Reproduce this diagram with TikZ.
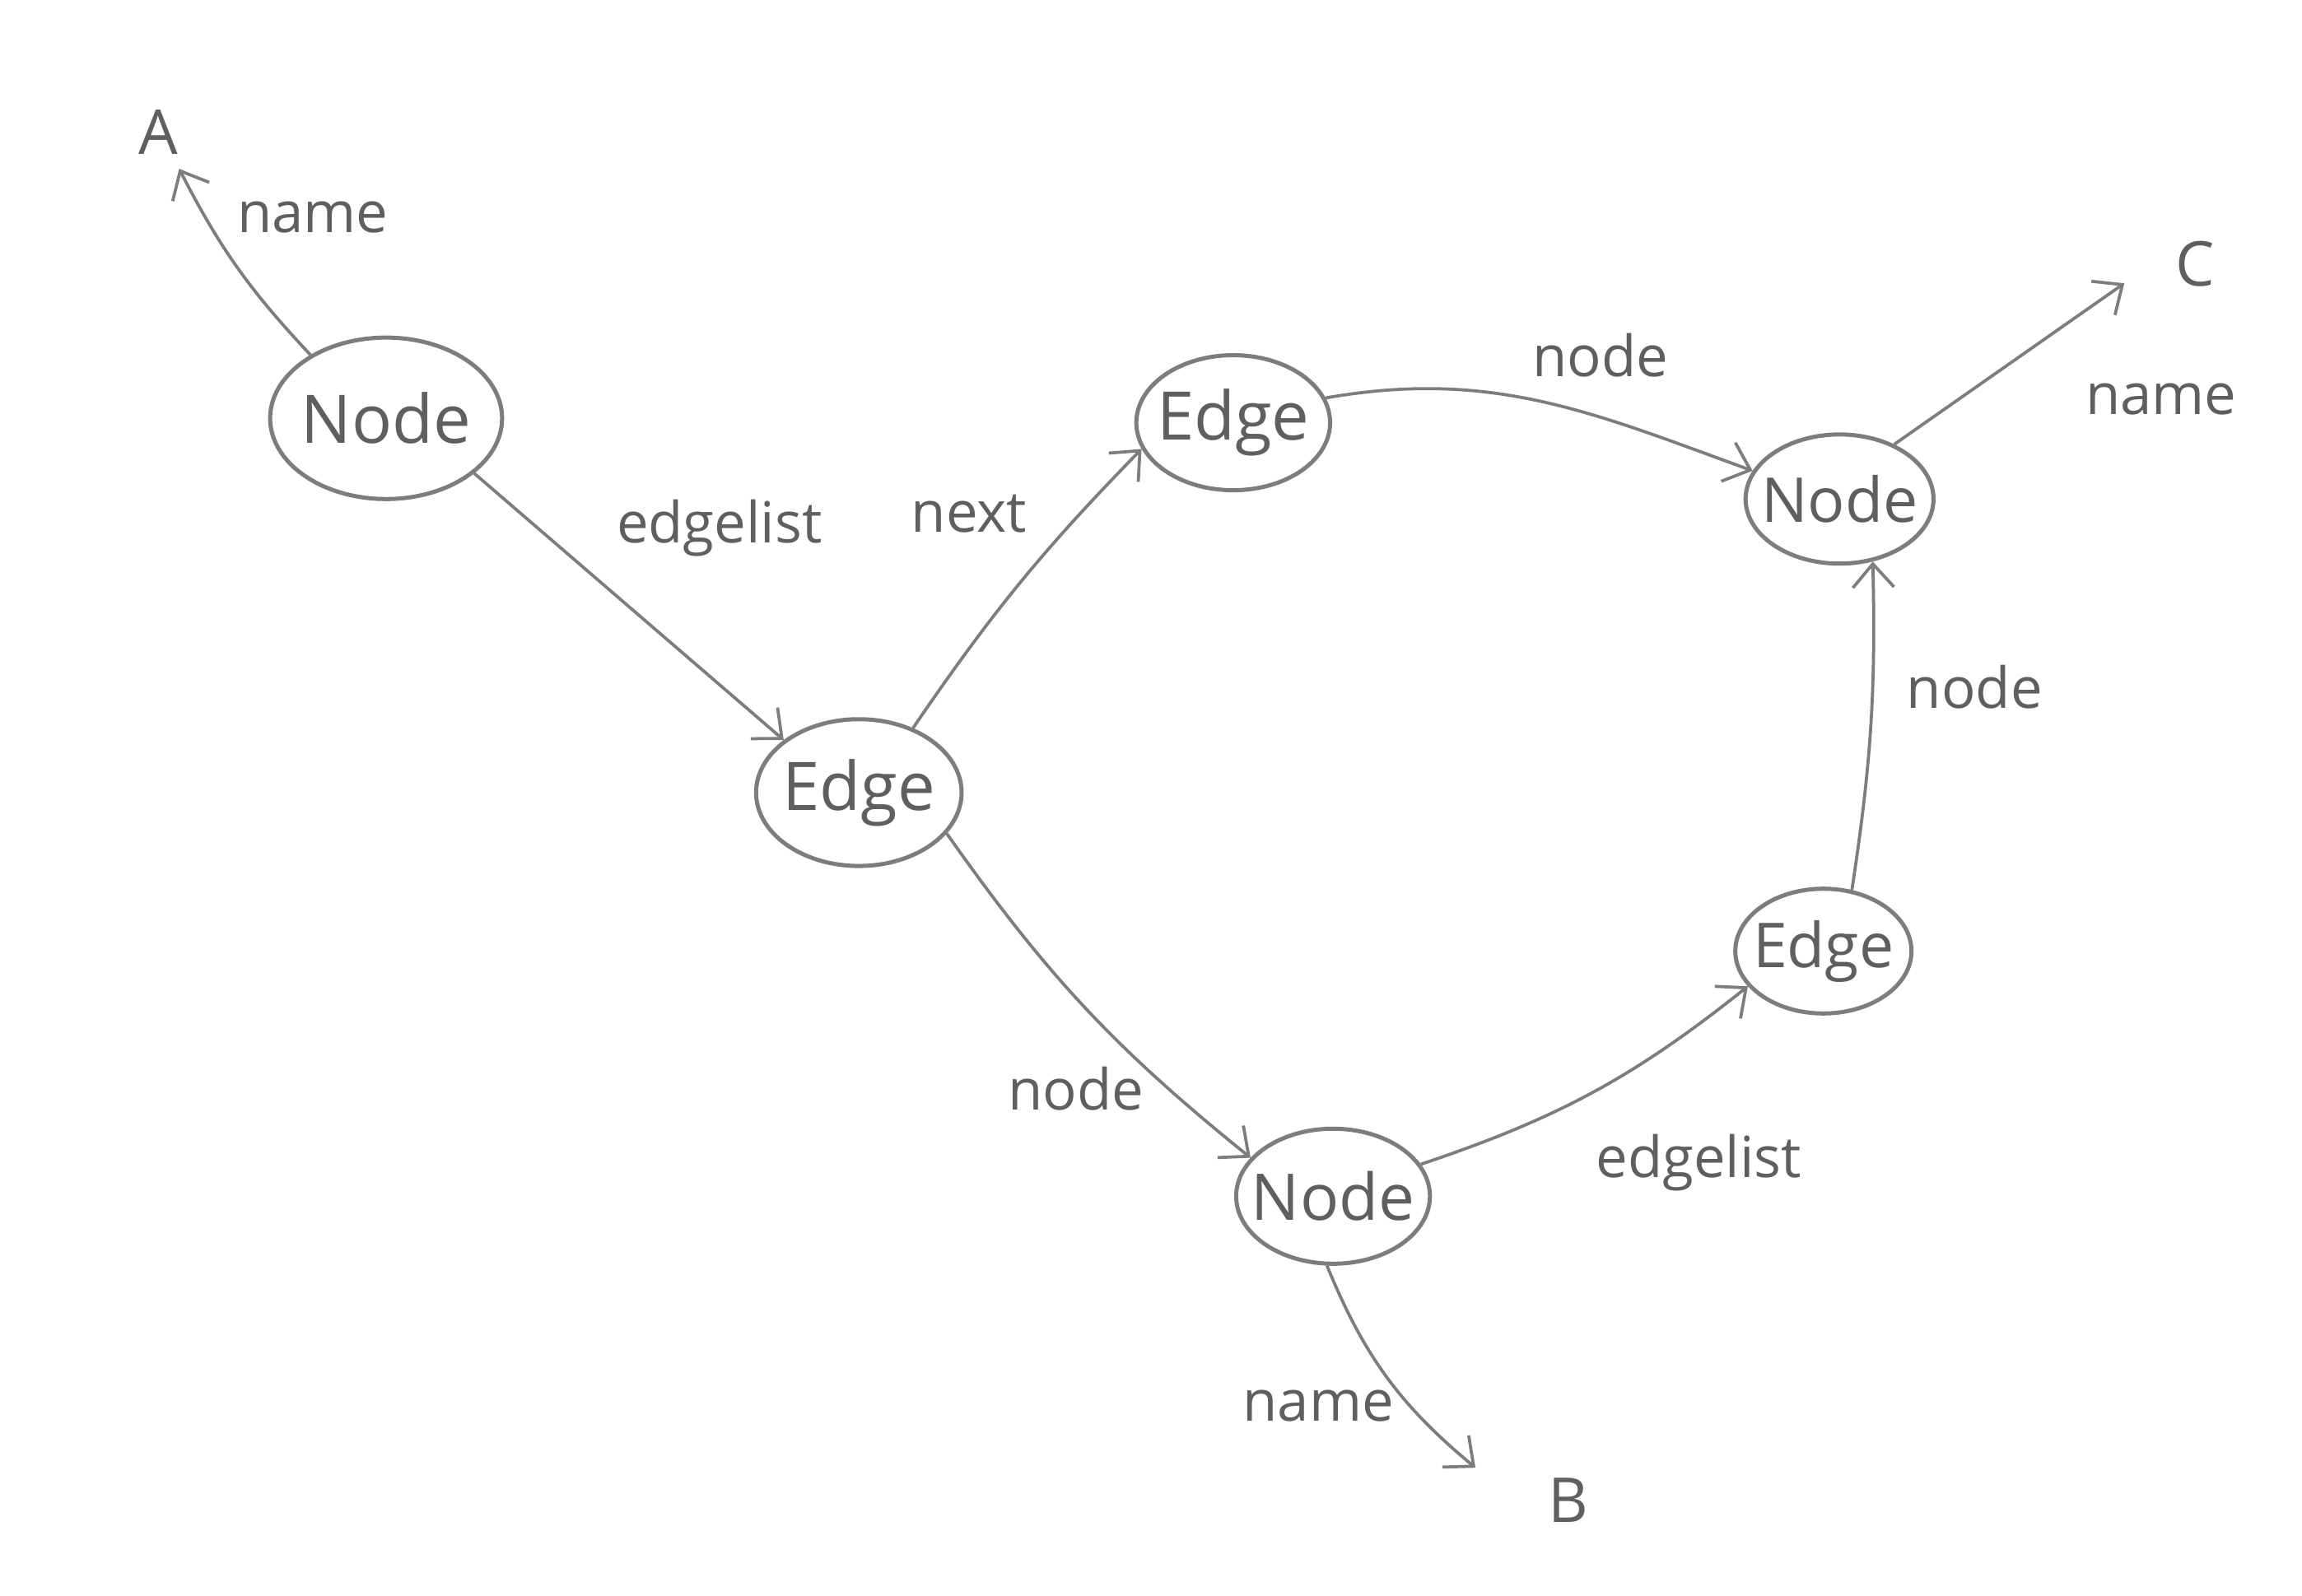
\documentclass[tikz,border=0pt]{standalone}
\usepackage{fontspec}
\setmainfont{Open Sans}
\usetikzlibrary{shapes.geometric,arrows.meta}
\definecolor{pencil}{RGB}{125,125,125}
\definecolor{pencilText}{RGB}{95,95,95}
\begin{document}
\begin{tikzpicture}[x=0.1mm,y=-0.1mm,
  obj/.style={ellipse,draw=pencil,line width=0.8pt,inner xsep=-1mm,inner ysep=0pt,text=pencilText,
    font=\fontsize{13}{15}\selectfont},
  nodeobj/.style={obj,minimum width=15.8mm,minimum height=11mm},
  edgeobj/.style={obj,minimum width=14mm,minimum height=10mm},
  link/.style={draw=pencil,line width=0.6pt,-{Straight Barb[length=1.6mm,width=2.8mm]}},
  lbl/.style={text=pencilText,font=\fontsize{11}{13}\selectfont,inner sep=1pt},
  endlbl/.style={text=pencilText,font=\fontsize{12}{14}\selectfont,inner sep=1pt}]
\useasboundingbox[fill=white] (0,0) rectangle (1568,1087);

% objects
\node[nodeobj] (n1) at (263,285) {Node};
\node[edgeobj] (e1) at (585,540) {Edge};
\node[edgeobj,minimum width=13.2mm,minimum height=9.2mm] (e2) at (840,288) {Edge};
\node[nodeobj,minimum width=12.8mm,minimum height=8.8mm,font=\fontsize{12}{14}\selectfont] (n2) at (1253,340) {Node};
\node[edgeobj,minimum width=12mm,minimum height=8.5mm,font=\fontsize{12}{14}\selectfont] (e3) at (1242,648) {Edge};
\node[nodeobj,minimum width=13.2mm,minimum height=9.2mm,font=\fontsize{12.5}{14}\selectfont] (n3) at (908,815) {Node};

% free ends
\coordinate (tipA) at (122,115);
\coordinate (tipB) at (1005,1000);
\coordinate (tipC) at (1447,193);

% connectors
\draw[link] (n1.140) to[bend left=8] (tipA);
\draw[link] (n1.-32) -- (e1.145);
\draw[link] (e1.50) to[bend left=5] (e2.196);
\draw[link] (e2.15) to[out=10,in=160] (n2.162);
\draw[link] (n2.45) -- (tipC);
\draw[link] (e3.65) to[bend right=5] (n2.-62);
\draw[link] (e1.-25) to[bend right=8] (n3.155);
\draw[link] (n3.20) to[bend right=10] (e3.205);
\draw[link] (n3.-95) to[bend right=14] (tipB);

% labels
\node[endlbl] (labA) at (108,90) {A};
\node[endlbl] (labB) at (1068,1022) {B};
\node[endlbl] (labC) at (1495,180) {C};
\node[lbl] (l1) at (213,148) {name};
\node[lbl] (l2) at (490,360) {edgelist};
\node[lbl] (l3) at (660,350) {next};
\node[lbl] (l4) at (1090,242) {node};
\node[lbl] (l5) at (1472,272) {name};
\node[lbl] (l6) at (1345,468) {node};
\node[lbl] (l7) at (733,742) {node};
\node[lbl] (l8) at (1157,792) {edgelist};
\node[lbl] (l9) at (898,958) {name};
\end{tikzpicture}
\end{document}
